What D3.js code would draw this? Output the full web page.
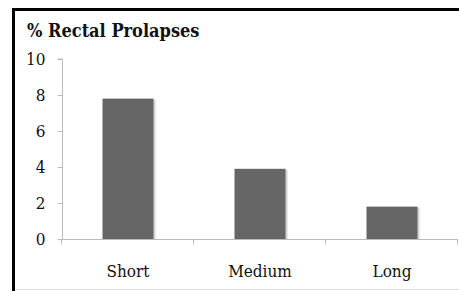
<!DOCTYPE html>
<html><head><meta charset="utf-8">
<script src="https://cdn.jsdelivr.net/npm/d3@7"></script>
<style>body{margin:0;background:#fff}svg{display:block}</style>
</head><body>
<script>
const categories = ["Short", "Medium", "Long"];
const values = [7.8, 3.9, 1.8];
const yTicks = [0, 2, 4, 6, 8, 10];
const title = "% Rectal Prolapses";

const W = 459, H = 291;
const svg = d3.select("body").append("svg").attr("width", W).attr("height", H);
const font = "'DejaVu Serif Condensed', 'DejaVu Serif', serif";

const x = d3.scaleBand().domain(categories).range([62, 458]).paddingInner(0).paddingOuter(0);
const y = d3.scaleLinear().domain([0, 10]).range([239, 59]);

// frame
svg.append("line").attr("x1", 13.5).attr("x2", 13.5).attr("y1", 8).attr("y2", H).attr("stroke", "#000").attr("stroke-width", 3);
svg.append("line").attr("x1", 12).attr("x2", W).attr("y1", 9.5).attr("y2", 9.5).attr("stroke", "#000").attr("stroke-width", 3);
svg.append("line").attr("x1", 15).attr("x2", W).attr("y1", 289.5).attr("y2", 289.5).attr("stroke", "#ddd").attr("stroke-width", 1);

// title
svg.append("text").attr("x", 27).attr("y", 37).attr("font-family", font).attr("font-weight", "bold")
  .attr("font-size", 18).attr("fill", "#111").text(title);

// bars shadow + bars
const bw = 51;
svg.selectAll("rect.sh").data(values).join("rect").attr("class", "sh")
  .attr("x", (d, i) => x(categories[i]) + (x.bandwidth() - bw) / 2 + 2)
  .attr("y", d => y(d) + 1).attr("width", bw).attr("height", d => y(0) - y(d) - 1)
  .attr("fill", "#d4d4d4");
svg.selectAll("rect.bar").data(values).join("rect").attr("class", "bar")
  .attr("x", (d, i) => x(categories[i]) + (x.bandwidth() - bw) / 2)
  .attr("y", d => y(d)).attr("width", bw).attr("height", d => y(0) - y(d))
  .attr("fill", "#666");

// y axis
const yAxis = d3.axisLeft(y).tickValues(yTicks).tickSize(5).tickPadding(12).tickFormat(d3.format("d"));
const gy = svg.append("g").attr("transform", "translate(62.5,0)").call(yAxis);
gy.select(".domain").attr("stroke", "#bbb").attr("d", `M-5,${y(10)}H0V${y(0)}`);
gy.selectAll(".tick line").attr("stroke", "#bbb");
gy.selectAll(".tick text").attr("font-family", font).attr("font-size", 17).attr("fill", "#111");

// x axis
const gx = svg.append("g").attr("transform", `translate(0,${y(0) + 0.5})`);
gx.append("line").attr("x1", 62).attr("x2", 458).attr("y1", 0).attr("y2", 0).attr("stroke", "#bbb");
const bounds = [x.range()[0]].concat(categories.map(c => x(c) + x.bandwidth()));
gx.selectAll("line.tk").data(bounds).join("line").attr("class", "tk")
  .attr("x1", d => Math.round(d) - 0.5).attr("x2", d => Math.round(d) - 0.5).attr("y1", 0).attr("y2", 5).attr("stroke", "#bbb");
gx.selectAll("text").data(categories).join("text")
  .attr("x", d => x(d) + x.bandwidth() / 2).attr("y", 37).attr("text-anchor", "middle")
  .attr("font-family", font).attr("font-size", 17).attr("fill", "#111").text(d => d);
</script>
</body></html>
